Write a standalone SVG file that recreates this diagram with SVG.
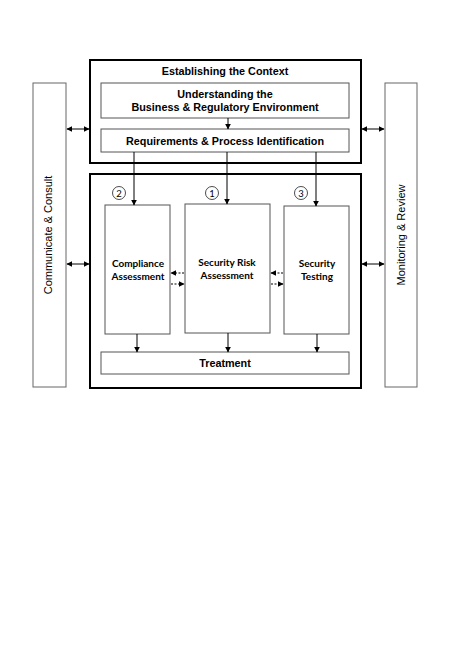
<svg xmlns="http://www.w3.org/2000/svg" width="473" height="666" viewBox="0 0 473 666">
<defs>
<marker id="ah" viewBox="0 0 10 10" refX="9" refY="5" markerWidth="6" markerHeight="6" orient="auto-start-reverse" markerUnits="userSpaceOnUse"><path d="M0,0 L10,5 L0,10 z" fill="#000"/></marker>
<style>
.outer{fill:none;stroke:#000;stroke-width:2}
.box{fill:#fff;stroke:#555;stroke-width:1}
.side{fill:#fff;stroke:#666;stroke-width:1}
.t{font-family:"Liberation Sans",Arial,sans-serif;font-weight:bold;font-size:10.8px;fill:#000;text-anchor:middle}
.c{font-family:Lato,"Open Sans","Liberation Sans",sans-serif;font-weight:bold;font-size:10px;fill:#000;text-anchor:middle}
.v{font-family:"Liberation Sans",Arial,sans-serif;font-size:11px;fill:#000;text-anchor:middle}
.n{font-family:Lato,"Liberation Sans",sans-serif;font-size:9.5px;fill:#000;text-anchor:middle}
.ln{stroke:#000;stroke-width:1;fill:none}
.dl{stroke:#000;stroke-width:1;fill:none;stroke-dasharray:2,1.5}
.ci{fill:none;stroke:#000;stroke-width:0.7}
</style>
</defs>
<rect width="473" height="666" fill="#fff"/>
<g id="communicate"><rect class="side" x="33" y="83" width="33" height="304"/><text class="v" transform="translate(52,235) rotate(-90)">Communicate &amp; Consult</text></g>
<g id="monitoring"><rect class="side" x="385" y="83" width="32" height="304"/><text class="v" transform="translate(405,235) rotate(-90)">Monitoring &amp; Review</text></g>
<g id="context"><rect class="outer" x="90" y="60" width="271" height="103"/><text class="t" x="225" y="75">Establishing the Context</text></g>
<g id="understanding"><rect class="box" x="101" y="83" width="248" height="35"/><text class="t" x="225" y="98">Understanding the</text><text class="t" x="225" y="111">Business &amp; Regulatory Environment</text></g>
<g id="requirements"><rect class="box" x="101" y="129" width="248" height="23"/><text class="t" x="225" y="145">Requirements &amp; Process Identification</text></g>
<g id="assessment-area"><rect class="outer" x="90" y="174" width="271" height="214"/></g>
<g id="compliance"><rect class="box" x="105" y="205" width="65" height="129"/><text class="c" x="138" y="267">Compliance</text><text class="c" x="138" y="280">Assessment</text><circle class="ci" cx="119" cy="193" r="6.5"/><text class="n" x="119" y="196.5">2</text></g>
<g id="risk"><rect class="box" x="185" y="204" width="85" height="129"/><text class="c" x="227" y="266">Security Risk</text><text class="c" x="227" y="279">Assessment</text><circle class="ci" cx="212" cy="193" r="6.5"/><text class="n" x="212" y="196.5">1</text></g>
<g id="testing"><rect class="box" x="284" y="206" width="65" height="128"/><text class="c" x="317" y="267">Security</text><text class="c" x="317" y="280">Testing</text><circle class="ci" cx="301" cy="193" r="6.5"/><text class="n" x="301" y="196.5">3</text></g>
<g id="treatment"><rect class="box" x="101" y="352" width="248" height="22"/><text class="t" x="225" y="367">Treatment</text></g>
<g id="connectors">
<line class="ln" x1="67" y1="129" x2="89" y2="129" marker-start="url(#ah)" marker-end="url(#ah)"/>
<line class="ln" x1="362" y1="129" x2="384" y2="129" marker-start="url(#ah)" marker-end="url(#ah)"/>
<line class="ln" x1="67" y1="264" x2="89" y2="264" marker-start="url(#ah)" marker-end="url(#ah)"/>
<line class="ln" x1="362" y1="264" x2="384" y2="264" marker-start="url(#ah)" marker-end="url(#ah)"/>
<line class="ln" x1="228" y1="118" x2="228" y2="129" marker-end="url(#ah)"/>
<line class="ln" x1="134" y1="152" x2="134" y2="205" marker-end="url(#ah)"/>
<line class="ln" x1="227" y1="152" x2="227" y2="204" marker-end="url(#ah)"/>
<line class="ln" x1="316" y1="152" x2="316" y2="206" marker-end="url(#ah)"/>
<line class="ln" x1="137" y1="334" x2="137" y2="352" marker-end="url(#ah)"/>
<line class="ln" x1="228" y1="333" x2="228" y2="352" marker-end="url(#ah)"/>
<line class="ln" x1="317" y1="334" x2="317" y2="352" marker-end="url(#ah)"/>
<line class="dl" x1="184" y1="273" x2="171" y2="273" marker-end="url(#ah)"/>
<line class="dl" x1="171" y1="284" x2="184" y2="284" marker-end="url(#ah)"/>
<line class="dl" x1="283" y1="273" x2="271" y2="273" marker-end="url(#ah)"/>
<line class="dl" x1="271" y1="284" x2="283" y2="284" marker-end="url(#ah)"/>
</g>
</svg>
